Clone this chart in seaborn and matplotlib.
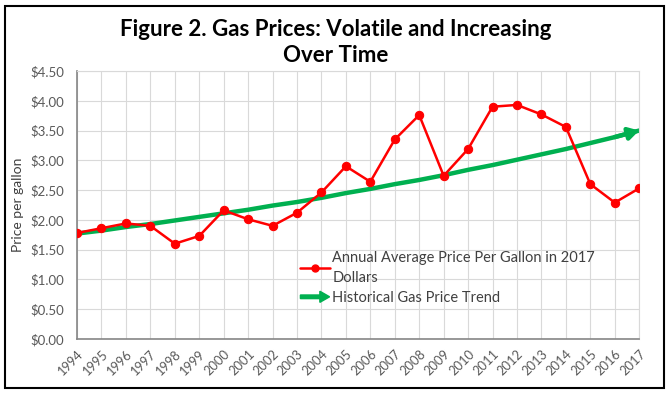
import matplotlib
matplotlib.use("Agg")
import matplotlib.pyplot as plt
import matplotlib.patches as mpatches
from matplotlib.legend_handler import HandlerPatch
from matplotlib.lines import Line2D
from matplotlib.ticker import FuncFormatter
import seaborn as sns
import pandas as pd

# values
years = list(range(1994, 2018))
annual_price = [1.78, 1.86, 1.94, 1.90, 1.60, 1.73, 2.16, 2.01, 1.90, 2.12, 2.46, 2.90,
                2.64, 3.35, 3.76, 2.74, 3.19, 3.90, 3.93, 3.77, 3.56, 2.60, 2.29, 2.53]
trend_price = [1.77, 1.82, 1.88, 1.93, 1.99, 2.05, 2.11, 2.17, 2.24, 2.30, 2.37, 2.45,
               2.52, 2.60, 2.67, 2.75, 2.84, 2.92, 3.01, 3.10, 3.19, 3.29, 3.39, 3.50]

title = "Figure 2. Gas Prices: Volatile and Increasing\nOver Time"
price_label = "Annual Average Price Per Gallon in 2017\nDollars"
trend_label = "Historical Gas Price Trend"

RED = "#FF0000"
GREEN = "#00B050"
TXT = "#595959"

df = pd.DataFrame({"Year": years, "Price": annual_price, "Trend": trend_price})

sns.set_style("whitegrid")
plt.rcParams["font.family"] = ["Lato", "DejaVu Sans"]

fig = plt.figure(figsize=(6.72, 3.95), dpi=100)
ax = fig.add_axes([0.1146, 0.1418, 0.8366, 0.6785])

sns.lineplot(data=df, x="Year", y="Trend", ax=ax, color=GREEN, linewidth=3.2, zorder=2)
ax.annotate("", xy=(years[-1], trend_price[-1]), xytext=(years[-2], trend_price[-2]),
            arrowprops=dict(arrowstyle="-|>,head_length=0.6,head_width=0.35",
                            color=GREEN, lw=3.2, shrinkA=0, shrinkB=0), zorder=3)
sns.lineplot(data=df, x="Year", y="Price", ax=ax, color=RED, linewidth=1.8,
             marker="o", markersize=6, markeredgecolor=RED, zorder=4)

ax.set_xlim(1994, 2017)
ax.set_ylim(0, 4.5)
ax.set_xticks(years)
ax.set_xticklabels([str(y) for y in years], rotation=45, ha="right",
                   rotation_mode="anchor", fontsize=9.3, color=TXT)
ax.set_yticks([i * 0.5 for i in range(10)])
ax.yaxis.set_major_formatter(FuncFormatter(lambda v, p: "${:.2f}".format(v)))
ax.tick_params(axis="y", labelsize=9.5, labelcolor=TXT, pad=6)
ax.tick_params(axis="x", pad=3)
ax.set_xlabel("")
ax.set_ylabel("Price per gallon", fontsize=10, color="#404040", labelpad=4)
ax.grid(True, color="#D9D9D9", linewidth=0.8)
for s in ["top", "right"]:
    ax.spines[s].set_color("#D9D9D9")
    ax.spines[s].set_linewidth(0.8)
for s in ["left", "bottom"]:
    ax.spines[s].set_color("#868686")
    ax.spines[s].set_linewidth(1.2)

fig.text(0.5, 0.952, title, ha="center", va="top", fontsize=16,
         fontweight="bold", color="black", linespacing=1.3)


class ArrowHandler(HandlerPatch):
    def create_artists(self, legend, orig_handle, xdescent, ydescent,
                       width, height, fontsize, trans):
        y = height / 2 - ydescent
        arr = mpatches.FancyArrow(-xdescent, y, width, 0, width=2.6,
                                  head_width=8, head_length=7,
                                  length_includes_head=True, color=GREEN)
        arr.set_transform(trans)
        return [arr]


h_price = Line2D([], [], color=RED, linewidth=1.8, marker="o", markersize=5)
h_trend = mpatches.FancyArrow(0, 0, 1, 0, color=GREEN)
leg = ax.legend([h_price, h_trend], [price_label, trend_label],
                handler_map={mpatches.FancyArrow: ArrowHandler()},
                loc="upper left", bbox_to_anchor=(0.387, 0.35), frameon=False,
                fontsize=10.5, labelcolor="#404040", handlelength=2.0,
                handletextpad=0.2, labelspacing=0.4, borderaxespad=0)
for t in leg.get_texts():
    t.set_linespacing(1.55)

fig.patches.append(mpatches.Rectangle((0.008, 0.018), 0.98, 0.968, fill=False,
                                      edgecolor="black", linewidth=1.5,
                                      transform=fig.transFigure, figure=fig))

fig.savefig("out.png", dpi=100)
